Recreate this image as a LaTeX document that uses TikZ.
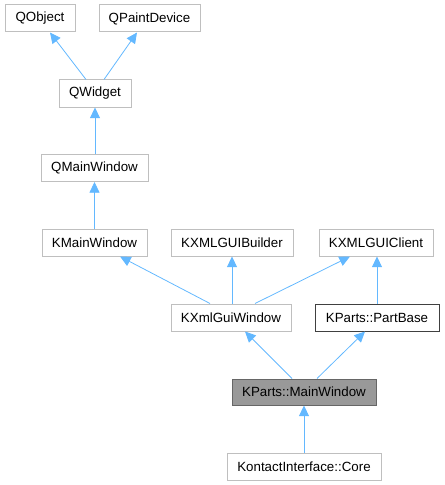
\documentclass[tikz,border=0pt]{standalone}
\usepackage{fontspec}
\setmainfont{Liberation Sans}
\usetikzlibrary{arrows.meta,calc}

\definecolor{edgeblue}{RGB}{99,184,255}
\definecolor{boxgray}{RGB}{191,191,191}
\definecolor{darkgray}{RGB}{64,64,64}
\definecolor{fillgray}{RGB}{153,153,153}

\tikzset{every picture/.style={line width=0.75pt}}
\tikzset{
  classbox/.style={draw=boxgray, fill=white, inner sep=0, minimum height=27*0.75pt,
    font=\fontsize{10}{12}\selectfont},
  docbox/.style={classbox, draw=darkgray},
  thisbox/.style={classbox, draw=darkgray!80, fill=fillgray},
  inherit/.style={draw=edgeblue, line width=0.6pt,
    -{Triangle[length=8pt,width=7.5pt,fill=edgeblue]}},
}

\begin{document}
\begin{tikzpicture}[x=0.75pt,y=0.75pt,yscale=-1,xscale=1]
	\useasboundingbox (0,0) rectangle (445,485);

	% Qt bases
	\node [classbox, minimum width=70*0.75pt] (qobject) at (40,18.5) {QObject};
	\node [classbox, minimum width=101*0.75pt] (qpaintdevice) at (149.5,18.5) {QPaintDevice};
	\node [classbox, minimum width=72*0.75pt] (qwidget) at (95,93.5) {QWidget};
	\node [classbox, minimum width=107*0.75pt] (qmainwindow) at (94.5,168) {QMainWindow};

	% KDE frameworks
	\node [classbox, minimum width=105*0.75pt] (kmainwindow) at (94.5,242.5) {KMainWindow};
	\node [classbox, minimum width=122*0.75pt] (kxmlguibuilder) at (232,242.5) {KXMLGUIBuilder};
	\node [classbox, minimum width=114*0.75pt] (kxmlguiclient) at (376,242.5) {KXMLGUIClient};
	\node [classbox, minimum width=120*0.75pt] (kxmlguiwindow) at (231,317.5) {KXmlGuiWindow};
	\node [docbox, minimum width=124*0.75pt] (partbase) at (377,317.5) {KParts::PartBase};

	% this class and its child
	\node [thisbox, minimum width=144*0.75pt, minimum height=26*0.75pt] (mainwindow) at (304,392) {KParts::MainWindow};
	\node [classbox, minimum width=154*0.75pt] (core) at (304,466.5) {KontactInterface::Core};

	% Inheritance arrows
	\draw [inherit] ($(qwidget.north)+(-9,0)$) -- ($(qobject.south)+(10,0)$) ;
	\draw [inherit] ($(qwidget.north)+(9,0)$) -- ($(qpaintdevice.south)+(-12.5,0)$) ;
	\draw [inherit] ($(qmainwindow.north)+(0.5,0)$) -- (qwidget.south) ;
	\draw [inherit] (kmainwindow.north) -- (qmainwindow.south) ;
	\draw [inherit] ($(kxmlguiwindow.north)+(-21,0)$) -- ($(kmainwindow.south)+(25.5,0)$) ;
	\draw [inherit] ($(kxmlguiwindow.north)+(1,0)$) -- (kxmlguibuilder.south) ;
	\draw [inherit] ($(kxmlguiwindow.north)+(24,0)$) -- ($(kxmlguiclient.south)+(-26,0)$) ;
	\draw [inherit] (partbase.north) -- ($(kxmlguiclient.south)+(1,0)$) ;
	\draw [inherit] ($(mainwindow.north)+(-12,0)$) -- ($(kxmlguiwindow.south)+(14,0)$) ;
	\draw [inherit] ($(mainwindow.north)+(13,0)$) -- ($(partbase.south)+(-12,0)$) ;
	\draw [inherit] (core.north) -- (mainwindow.south) ;

\end{tikzpicture}
\end{document}
